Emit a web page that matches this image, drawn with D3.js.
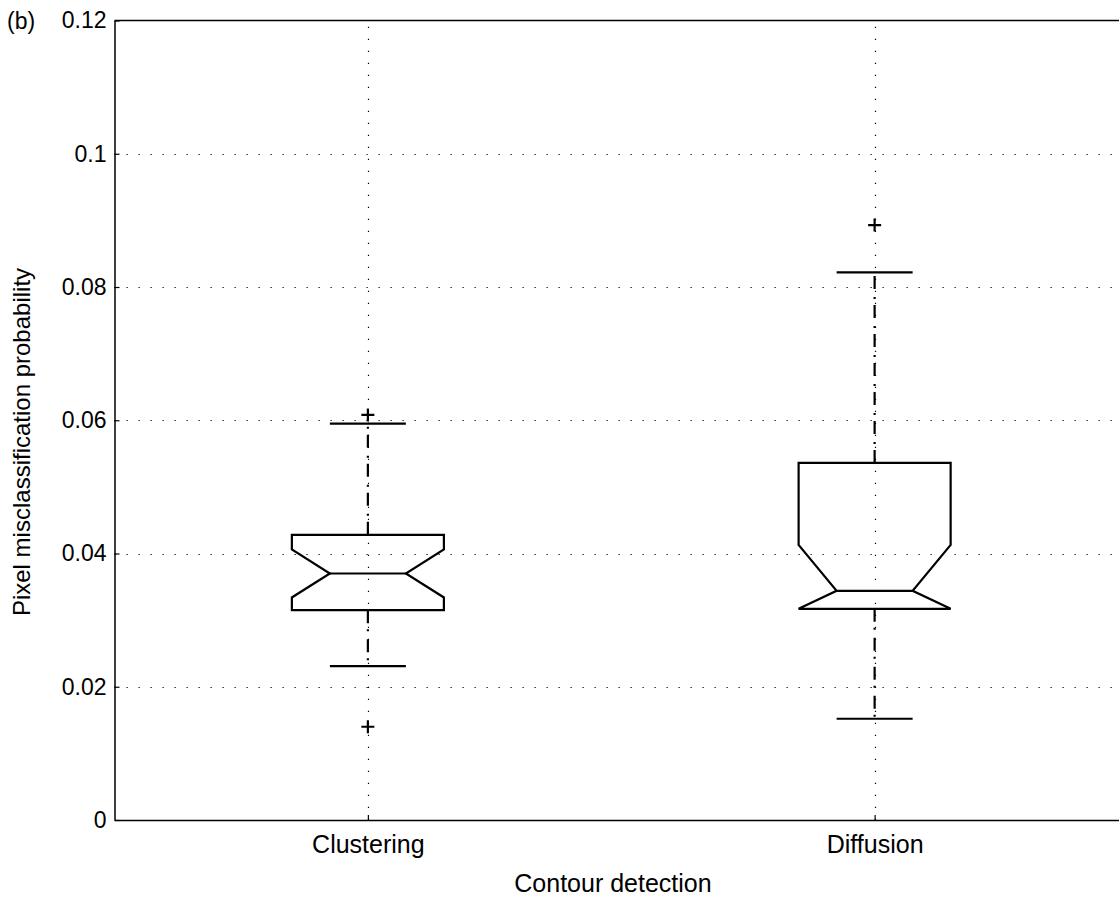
<!DOCTYPE html>
<html>
<head>
<meta charset="utf-8">
<script src="https://cdn.jsdelivr.net/npm/d3@7"></script>
<style>
  html, body { margin: 0; padding: 0; background: #fff; }
  svg text { font-family: "Liberation Sans", Arial, Helvetica, sans-serif; fill: #000; }
</style>
</head>
<body>
<svg id="chart" width="1119" height="905"></svg>
<script>
// Notched box plot of pixel misclassification probability per contour detection method
const categories = ["Clustering", "Diffusion"];
const q1 = [0.0315, 0.0317];
const medians = [0.0370, 0.0344];
const q3 = [0.0428, 0.0536];
const notchLo = [0.0334, 0.0317];
const notchHi = [0.0406, 0.0413];
const whiskerLo = [0.0231, 0.0152];
const whiskerHi = [0.0595, 0.0822];
const outliers = [[0.0608, 0.0140], [0.0893]];
const yTicks = [0, 0.02, 0.04, 0.06, 0.08, 0.1, 0.12];
const yTickLabels = ["0", "0.02", "0.04", "0.06", "0.08", "0.1", "0.12"];

const FONT_Y = 23;
const FONT_X = 25;
const svg = d3.select("#chart");
const margin = { left: 114.5, top: 20.5, bottom: 820 };
const plotRight = 1128;

// x positions 1..n, with half a unit of padding on each side
const x = d3.scaleLinear().domain([0.5, categories.length + 0.5]).range([margin.left, plotRight]);
const y = d3.scaleLinear().domain([0, 0.12]).range([margin.bottom, margin.top]);
const unit = x(1) - x(0);
const boxHalf = 0.15 * unit;
const notchHalf = 0.075 * unit;
const capHalf = 0.075 * unit;

// grid lines
const grid = svg.append("g").attr("stroke", "#000").attr("stroke-width", 1.2)
  .attr("stroke-dasharray", "1.2,10.8");
grid.selectAll("line.h").data(yTicks.filter(d => d > 0 && d < 0.12)).join("line")
  .attr("x1", margin.left).attr("x2", plotRight)
  .attr("y1", d => Math.round(y(d)) + 0.5).attr("y2", d => Math.round(y(d)) + 0.5);
grid.selectAll("line.v").data(categories).join("line")
  .attr("x1", (d, i) => Math.round(x(i + 1)) + 0.5).attr("x2", (d, i) => Math.round(x(i + 1)) + 0.5)
  .attr("y1", margin.bottom).attr("y2", margin.top);

// axes
const yAxis = d3.axisLeft(y).tickValues(yTicks).tickFormat((d, i) => yTickLabels[i])
  .tickSizeInner(-5).tickSizeOuter(0).tickPadding(8);
const gy = svg.append("g").attr("transform", `translate(${margin.left},0)`).call(yAxis);
gy.attr("font-size", FONT_Y).attr("font-family", null);
gy.select(".domain").attr("stroke", "#000").attr("stroke-width", 1.5);
gy.selectAll(".tick line").attr("stroke", "#000").attr("stroke-width", 1.2);

const xAxis = d3.axisBottom(x).tickValues(categories.map((d, i) => i + 1))
  .tickFormat((d, i) => categories[i]).tickSizeInner(-5).tickSizeOuter(0).tickPadding(15);
const gx = svg.append("g").attr("transform", `translate(0,${margin.bottom})`).call(xAxis);
gx.attr("font-size", FONT_X).attr("font-family", null);
gx.select(".domain").attr("stroke", "#000").attr("stroke-width", 1.5);
gx.selectAll(".tick line").attr("stroke", "#000").attr("stroke-width", 1.2);

// top border
svg.append("line").attr("x1", margin.left).attr("x2", plotRight)
  .attr("y1", margin.top).attr("y2", margin.top).attr("stroke", "#000").attr("stroke-width", 1.5);

// boxes
const boxes = svg.append("g").attr("fill", "none").attr("stroke", "#000").attr("stroke-width", 2.2);
categories.forEach((c, i) => {
  const cx = x(i + 1);
  // whiskers (dash-dot), drawn outward from the box
  boxes.append("line").attr("x1", cx).attr("x2", cx)
    .attr("y1", y(q3[i])).attr("y2", y(whiskerHi[i])).attr("stroke-dasharray", "13,6,2,8");
  boxes.append("line").attr("x1", cx).attr("x2", cx)
    .attr("y1", y(q1[i])).attr("y2", y(whiskerLo[i])).attr("stroke-dasharray", "13,6,2,8");
  // whisker caps
  [whiskerHi[i], whiskerLo[i]].forEach(v => {
    boxes.append("line").attr("x1", cx - capHalf).attr("x2", cx + capHalf)
      .attr("y1", y(v)).attr("y2", y(v));
  });
  // notched box outline
  const pts = [
    [cx - boxHalf, y(q1[i])], [cx - boxHalf, y(notchLo[i])], [cx - notchHalf, y(medians[i])],
    [cx - boxHalf, y(notchHi[i])], [cx - boxHalf, y(q3[i])], [cx + boxHalf, y(q3[i])],
    [cx + boxHalf, y(notchHi[i])], [cx + notchHalf, y(medians[i])], [cx + boxHalf, y(notchLo[i])],
    [cx + boxHalf, y(q1[i])]
  ];
  boxes.append("path").attr("d", d3.line()(pts) + "Z").attr("stroke-linejoin", "miter");
  // median
  boxes.append("line").attr("x1", cx - notchHalf).attr("x2", cx + notchHalf)
    .attr("y1", y(medians[i])).attr("y2", y(medians[i]));
  // outliers
  outliers[i].forEach(v => {
    const py = y(v);
    boxes.append("path").attr("d", `M${cx - 6.5},${py}H${cx + 6.5}M${cx},${py - 6.5}V${py + 6.5}`);
  });
});

// labels
svg.append("text").attr("x", 613).attr("y", 892).attr("text-anchor", "middle")
  .attr("font-size", FONT_X).text("Contour detection");
svg.append("text").attr("transform", `translate(30,442) rotate(-90)`)
  .attr("text-anchor", "middle").attr("font-size", 24).text("Pixel misclassification probability");
svg.append("text").attr("x", 7).attr("y", 29).attr("font-size", FONT_Y).text("(b)");
</script>
</body>
</html>
